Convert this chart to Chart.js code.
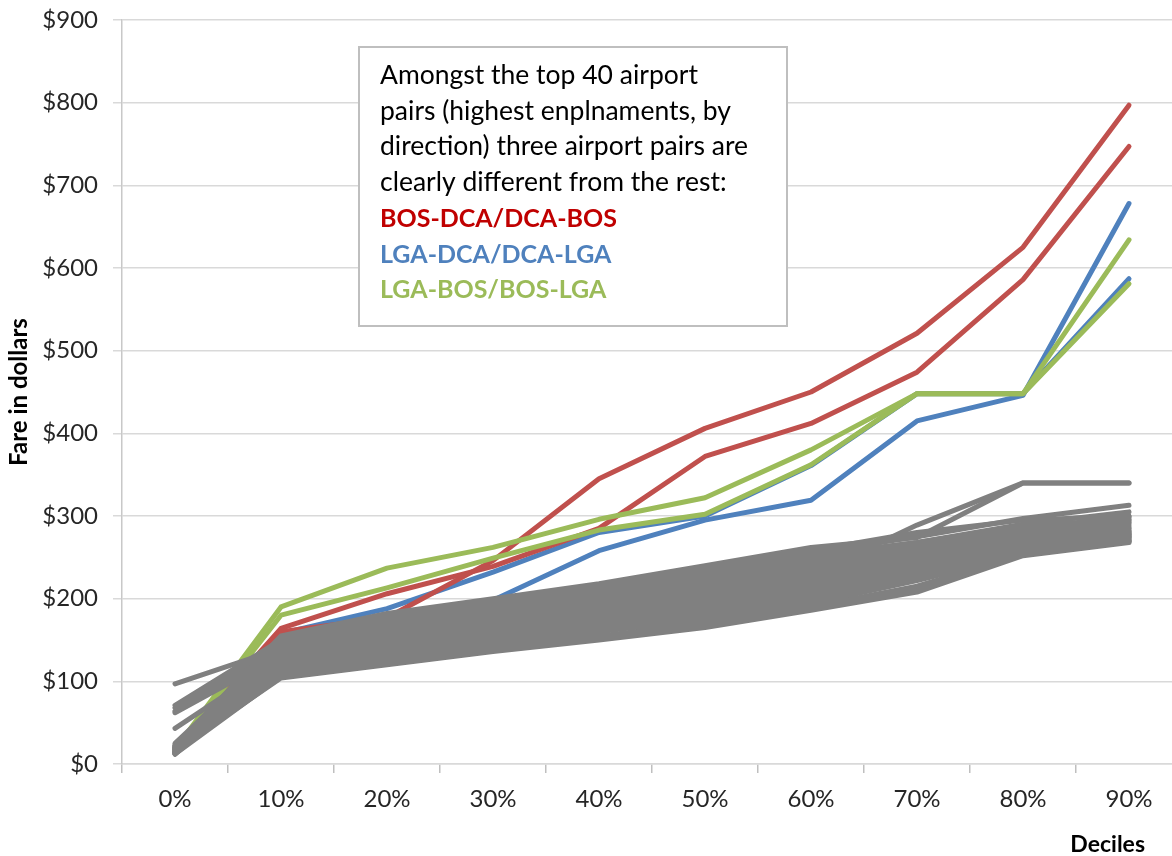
<!DOCTYPE html>
<html>
<head>
<meta charset="utf-8">
<script src="https://cdn.jsdelivr.net/npm/chart.js@4"></script>
<style>
  html, body { margin: 0; padding: 0; background: #fff; overflow: hidden; }
  #wrap { width: 1182px; height: 856px; }
</style>
</head>
<body>
<div id="wrap"><canvas id="fares" width="1182" height="856"></canvas></div>
<script>
// Fare deciles, in dollars
const deciles = ['0%', '10%', '20%', '30%', '40%', '50%', '60%', '70%', '80%', '90%'];

// Highlighted airport pairs (both directions)
const bosDca = [15, 160, 177, 246, 345, 406, 450, 521, 625, 797];
const dcaBos = [20, 164, 206, 239, 285, 372, 412, 474, 586, 747];
const lgaDca = [15, 158, 188, 232, 280, 300, 361, 448, 448, 587];
const dcaLga = [14, 150, 170, 198, 258, 295, 319, 415, 446, 678];
const lgaBos = [18, 190, 237, 262, 296, 322, 380, 448, 448, 634];
const bosLga = [16, 180, 213, 249, 283, 302, 362, 448, 448, 581];

// Remaining pairs of the top 40
const rest01 = [97, 140, 168, 190, 205, 222, 245, 262, 282, 300];
const rest02 = [71, 150, 175, 195, 212, 232, 255, 275, 297, 313];
const rest03 = [68, 145, 170, 192, 210, 228, 250, 268, 290, 305];
const rest04 = [64, 138, 160, 180, 198, 215, 240, 260, 280, 298];
const rest05 = [62, 132, 155, 175, 193, 210, 232, 258, 278, 295];
const rest06 = [43, 128, 150, 170, 188, 205, 228, 289, 340, 340];
const rest07 = [22, 155, 182, 200, 218, 240, 262, 274, 340, 340];
const rest08 = [20, 152, 178, 198, 215, 236, 258, 280, 295, 300];
const rest09 = [18, 148, 172, 190, 208, 230, 252, 268, 288, 296];
const rest10 = [25, 145, 168, 186, 205, 226, 248, 262, 284, 293];
const rest11 = [15, 142, 165, 183, 202, 222, 244, 258, 282, 290];
const rest12 = [14, 140, 162, 180, 198, 218, 240, 256, 280, 288];
const rest13 = [20, 137, 160, 178, 195, 215, 236, 254, 278, 286];
const rest14 = [12, 135, 158, 176, 193, 212, 232, 252, 276, 285];
const rest15 = [17, 133, 155, 174, 190, 208, 228, 250, 274, 283];
const rest16 = [22, 130, 153, 172, 188, 205, 225, 248, 272, 282];
const rest17 = [13, 128, 150, 170, 185, 202, 222, 246, 270, 281];
const rest18 = [19, 126, 148, 168, 183, 200, 220, 244, 268, 280];
const rest19 = [16, 124, 146, 166, 180, 198, 218, 242, 266, 279];
const rest20 = [14, 122, 144, 163, 178, 196, 215, 240, 264, 278];
const rest21 = [21, 120, 142, 160, 176, 193, 212, 238, 262, 277];
const rest22 = [12, 118, 140, 158, 174, 190, 210, 235, 260, 276];
const rest23 = [18, 116, 138, 156, 172, 188, 208, 232, 258, 275];
const rest24 = [15, 115, 136, 153, 170, 185, 205, 230, 257, 274];
const rest25 = [23, 113, 134, 150, 167, 182, 202, 228, 256, 273];
const rest26 = [13, 112, 132, 148, 164, 180, 198, 226, 255, 272];
const rest27 = [17, 110, 130, 146, 162, 178, 196, 224, 254, 271];
const rest28 = [14, 108, 128, 144, 160, 176, 194, 222, 254, 270];
const rest29 = [20, 118, 138, 152, 162, 172, 190, 215, 253, 270];
const rest30 = [12, 106, 122, 138, 152, 168, 188, 210, 253, 269];
const rest31 = [16, 104, 120, 136, 150, 165, 186, 208, 252, 268];
const rest32 = [14, 110, 125, 140, 155, 170, 196, 225, 262, 275];
const rest33 = [19, 125, 150, 175, 200, 225, 255, 245, 260, 278];
const rest34 = [15, 140, 165, 185, 205, 230, 250, 265, 285, 292];

const restPairs = [rest01, rest02, rest03, rest04, rest05, rest06, rest07, rest08, rest09, rest10,
  rest11, rest12, rest13, rest14, rest15, rest16, rest17, rest18, rest19, rest20,
  rest21, rest22, rest23, rest24, rest25, rest26, rest27, rest28, rest29, rest30,
  rest31, rest32, rest33, rest34];

// Note box text
const noteLines = [
  'Amongst the top 40 airport',
  'pairs (highest enplnaments, by',
  'direction) three airport pairs are',
  'clearly different from the rest:'
];
const keyLines = ['BOS-DCA/DCA-BOS', 'LGA-DCA/DCA-LGA', 'LGA-BOS/BOS-LGA'];

const RED = '#C0504D', BLUE = '#4F81BD', GREEN = '#9BBB59', GREY = '#808080';
const KEY_COLORS = ['#C00000', '#4F81BD', '#9BBB59'];
const FONT = 'Lato, "Open Sans", sans-serif';

function series(values, color) {
  return { data: values, borderColor: color, backgroundColor: color, fill: false };
}

// Index 0 is drawn last, so the grey bundle sits on top of the coloured pairs.
const datasets = [
  ...restPairs.map(v => series(v, GREY)),
  series(lgaBos, GREEN), series(bosLga, GREEN),
  series(bosDca, RED), series(dcaBos, RED),
  series(lgaDca, BLUE), series(dcaLga, BLUE)
];

const annotations = {
  id: 'annotations',
  afterDraw(chart) {
    const ctx = chart.ctx;
    const area = chart.chartArea;
    ctx.save();

    // axis titles
    ctx.fillStyle = '#000';
    ctx.textAlign = 'center';
    ctx.textBaseline = 'middle';
    ctx.save();
    ctx.font = 'bold 24px ' + FONT;
    ctx.translate(19, (area.top + area.bottom) / 2);
    ctx.rotate(-Math.PI / 2);
    ctx.fillText('Fare in dollars', 0, 0);
    ctx.restore();
    ctx.font = 'bold 23px ' + FONT;
    ctx.textAlign = 'right';
    ctx.fillText('Deciles', 1145, 845);

    // note box
    const bx = 359, by = 47, bw = 428, bh = 279;
    ctx.fillStyle = '#fff';
    ctx.fillRect(bx, by, bw, bh);
    ctx.strokeStyle = '#bfbfbf';
    ctx.lineWidth = 2;
    ctx.strokeRect(bx, by, bw, bh);

    ctx.textAlign = 'left';
    ctx.textBaseline = 'alphabetic';
    ctx.font = '26.5px ' + FONT;
    ctx.fillStyle = '#000';
    let y = 84;
    const step = 35.7;
    noteLines.forEach(t => { ctx.fillText(t, 380, y); y += step; });
    ctx.font = 'bold 25px ' + FONT;
    keyLines.forEach((t, i) => { ctx.fillStyle = KEY_COLORS[i]; ctx.fillText(t, 380, y); y += step; });
    ctx.restore();
  }
};

function build() {
  new Chart(document.getElementById('fares'), {
    type: 'line',
    data: { labels: deciles, datasets },
    options: {
      responsive: false,
      animation: false,
      devicePixelRatio: 1,
      layout: { padding: { top: 20, left: 0, right: 0, bottom: 0 } },
      plugins: { legend: { display: false }, tooltip: { enabled: false } },
      elements: {
        point: { radius: 0, hoverRadius: 0 },
        line: { tension: 0, borderWidth: 5, borderCapStyle: 'round', borderJoinStyle: 'round' }
      },
      scales: {
        x: {
          offset: true,
          grid: { offset: true, drawOnChartArea: false, drawTicks: true, tickLength: 9, color: '#bfbfbf', lineWidth: 1.5 },
          border: { display: true, color: '#d9d9d9', width: 1.5 },
          ticks: { font: { family: FONT, size: 24 }, color: '#262626', padding: 12, maxRotation: 0, autoSkip: false },
          afterFit(scale) { scale.height = 92; scale.paddingLeft = 0; scale.paddingRight = 0; }
        },
        y: {
          min: 0, max: 900,
          ticks: { stepSize: 100, callback: v => '$' + v, font: { family: FONT, size: 24 }, color: '#262626', padding: 15 },
          grid: { color: '#d9d9d9', lineWidth: 1.5, tickLength: 9, drawTicks: true, tickColor: '#d9d9d9' },
          border: { display: true, color: '#c8c8c8', width: 1.5 },
          afterFit(scale) { scale.width = 122; scale.paddingTop = 0; scale.paddingBottom = 0; }
        }
      }
    },
    plugins: [annotations]
  });
}

const fontsReady = document.fonts
  ? Promise.all([document.fonts.load('24px Lato'), document.fonts.load('bold 24px Lato')]).catch(() => {})
  : Promise.resolve();
fontsReady.then(build);
</script>
</body>
</html>
